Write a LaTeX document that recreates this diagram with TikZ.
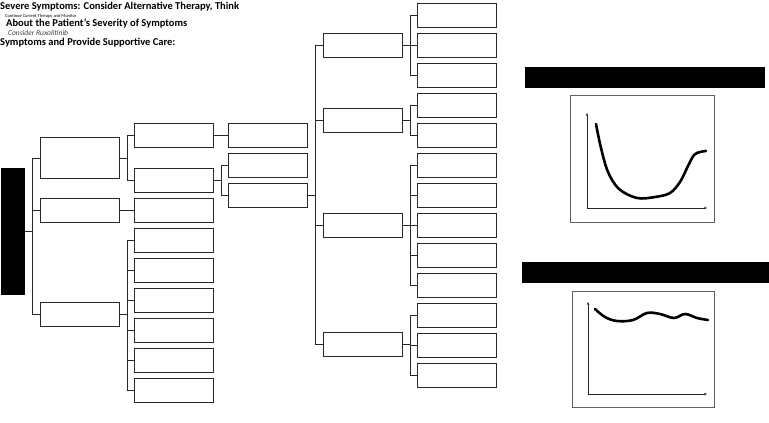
\documentclass[tikz,border=0pt]{standalone}
\usepackage{fontspec}
\setmainfont{Carlito}
\usetikzlibrary{positioning, calc, arrows.meta}
\definecolor{cLine}{RGB}{40,40,40}
\definecolor{cFrame}{RGB}{95,95,95}

\begin{document}
\begin{tikzpicture}[x=1pt, y=-1pt,
    b/.style={draw=cLine, line width=1.1pt, minimum width=79pt, minimum height=24pt,
              inner sep=0pt, anchor=north west},
    link/.style={draw=cLine, line width=1.1pt},
    bar/.style={fill=black, minimum height=21pt, inner sep=0pt, anchor=north west},
    frame/.style={draw=cFrame, line width=1pt, inner sep=0pt, anchor=north west},
    hd/.style={font=\fontsize{10.5}{12}\selectfont\bfseries, anchor=north west, inner sep=0pt},
    curve/.style={line width=2.6pt, line cap=round, line join=round}]
    \useasboundingbox (0,0) rectangle (769,423);
    % heading texts
    \node[hd] (t1) at (0,2) {Severe Symptoms: Consider Alternative Therapy, Think};
    \node[hd, font=\fontsize{4.5}{5}\selectfont] (t2) at (5,14.5) {Continue Current Therapy and Monitor};
    \node[hd] (t3) at (6,19) {About the Patient's Severity of Symptoms};
    \node[hd, font=\fontsize{7.5}{8}\selectfont\itshape, text=black!75] (t4) at (8,30) {Consider Ruxolitinib};
    \node[hd] (t5) at (0,38) {Symptoms and Provide Supportive Care:};
    % tree
    \node[bar, minimum width=24pt, minimum height=127pt] (r) at (1,168) {};
    \node[b, minimum height=41pt] (a) at (40,137) {};
    \node[b] (bb) at (40,198) {};
    \node[b] (c) at (40,302) {};
    \foreach \i/\y in {a1/123,a2/168,b1/198,c1/228,c2/258,c3/288,c4/318,c5/348,c6/378}{
        \node[b] (\i) at (134,\y) {};}
    \foreach \i/\y in {a1x/123,a2a/153,a2b/183}{
        \node[b] (\i) at (228,\y) {};}
    \foreach \i/\y in {d/33,e/108,f/213,g/332}{
        \node[b] (\i) at (323,\y) {};}
    \foreach \i in {0,...,12}{
        \node[b] (n\i) at (417,{3+30*\i}) {};}
    \foreach \p/\q in {r/a,r/bb,r/c,a/a1,a/a2,bb/b1,c/c1,c/c2,c/c3,c/c4,c/c5,c/c6,
                       a1/a1x,a2/a2a,a2/a2b,a2b/d,a2b/e,a2b/f,a2b/g,
                       d/n0,d/n1,d/n2,e/n3,e/n4,f/n5,f/n6,f/n7,f/n8,f/n9,g/n10,g/n11,g/n12}{
        \draw[link] (\p.east) -- ++(7.5,0) |- (\q.west);}
    % upper chart
    \node[bar, minimum width=240pt] (h1) at (525,67) {};
    \node[frame, minimum width=144pt, minimum height=127pt] (p1) at (570,95) {};
    \coordinate (o1) at (587,208);
    \draw[cLine, -{Stealth[length=3pt,width=2.5pt]}] (o1) -- (587,113);
    \draw[cLine, -{Stealth[length=3pt,width=2.5pt]}] (o1) -- (707,208);
    \draw[curve] plot[smooth, tension=0.55] coordinates {(596,124) (601,148) (608,172) (619,189)
        (637,198) (655,197) (670,193) (680,182) (688,166) (694,155) (700,152) (706,151)};
    % lower chart
    \node[bar, minimum width=247pt] (h2) at (522,262) {};
    \node[frame, minimum width=142pt, minimum height=116pt] (p2) at (572,291) {};
    \coordinate (o2) at (588,394);
    \draw[cLine, -{Stealth[length=3pt,width=2.5pt]}] (o2) -- (588,302);
    \draw[cLine, -{Stealth[length=3pt,width=2.5pt]}] (o2) -- (707,394);
    \draw[curve] plot[smooth, tension=0.6] coordinates {(595,309) (605,317) (617,321) (633,320)
        (647,313) (660,314) (674,318) (685,314) (697,318) (708,320)};
\end{tikzpicture}
\end{document}
